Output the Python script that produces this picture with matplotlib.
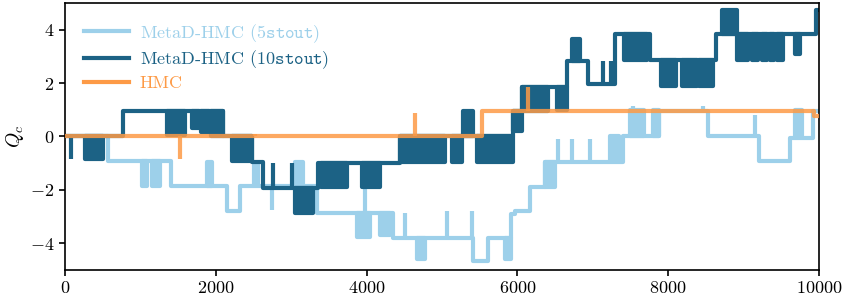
import matplotlib
matplotlib.use("Agg")
from matplotlib import pyplot as plt

plt.rcParams['font.family'] = 'serif'
plt.rcParams['font.serif'] = ['cmr10', 'DejaVu Serif']
plt.rcParams['mathtext.fontset'] = 'cm'
plt.rcParams['axes.formatter.use_mathtext'] = True
plt.rcParams['font.size'] = 13

# --- MetaD-HMC (5stout): plateau changes, flicker blocks, single spikes
q5_x = [0, 565, 1400, 2145, 2320, 3340, 4350, 5410, 5610, 5920, 5970, 6170, 6360,
        7400, 7880, 8530, 9210, 9610, 9920]
q5_y = [0.0, -0.9, -1.87, -2.8, -1.87, -2.85, -3.8, -4.68, -3.8, -2.9, -2.8, -1.9, -0.95,
        0.0, 0.95, 0.0, -0.93, -0.05, 0.95]
q5_blocks = [(1015, 1090, -1.85, -0.9), (1155, 1260, -1.85, -0.9), (1880, 1950, -1.87, -0.95),
             (3050, 3150, -1.87, -0.95), (3870, 4050, -3.75, -2.85), (4180, 4310, -3.7, -2.85),
             (4670, 4780, -4.6, -3.8), (5830, 5920, -4.6, -3.8), (6360, 6500, -1.9, -0.95),
             (7230, 7350, -0.93, 0.0), (7500, 7680, 0.0, 1.0), (7800, 7880, 0.0, 1.0),
             (9680, 9770, 0.0, 1.0)]
q5_spikes = [(2500, -1.87, -0.9), (2560, -1.87, -0.9), (2740, -1.87, -2.75), (3980, -2.85, -1.86),
             (4510, -3.8, -2.85), (5065, -3.8, -2.8), (5400, -3.8, -2.8), (6540, -0.93, -0.1),
             (6720, -0.93, -0.1), (6960, -0.93, -0.1), (7530, 0.0, 1.15), (8460, 0.95, 1.15),
             (9150, 0.0, 0.8)]

# --- MetaD-HMC (10stout)
q10_x = [0, 770, 2095, 2480, 2630, 3355, 4440, 5940, 6060, 6660, 6940, 7300, 7760, 8640, 9960]
q10_y = [0.0, 0.95, 0.0, -0.95, -1.92, -1.0, 0.0, 0.95, 1.85, 2.83, 1.95, 3.85, 2.85, 3.85, 4.75]
q10_blocks = [(265, 504, -0.85, 0.0), (1350, 1590, 0.05, 0.95), (1680, 1780, 0.3, 0.95),
              (1800, 1910, 0.15, 0.95), (1930, 2095, 0.02, 0.95), (2215, 2480, -0.9, 0.0),
              (3050, 3290, -2.85, -1.92), (3400, 3740, -1.9, -1.0), (3940, 4180, -1.9, -1.0),
              (4440, 5040, -0.95, 0.0), (5130, 5265, -0.95, 0.0), (5280, 5410, 0.0, 0.95),
              (5460, 5940, -0.95, 0.0), (5940, 6060, 0.2, 0.95), (6060, 6400, 0.95, 1.85),
              (6525, 6660, 1.0, 1.85), (6720, 6830, 2.83, 3.64), (7420, 7720, 2.85, 3.85),
              (7900, 8110, 1.9, 2.85), (8190, 8380, 1.9, 2.85), (8410, 8590, 1.9, 2.85),
              (8720, 8910, 3.85, 4.75), (8920, 9060, 2.85, 3.85), (9110, 9190, 2.85, 3.85),
              (9240, 9310, 2.85, 3.85), (9350, 9410, 2.85, 3.85), (9450, 9530, 2.85, 3.85),
              (9680, 9750, 3.1, 3.85)]
q10_spikes = [(80, 0.0, -0.85), (2760, -1.92, -1.0), (3010, -1.92, -1.0),
              (7130, 1.95, 2.83), (7240, 1.95, 2.83)]

# --- HMC
hmc_x = [0, 5530, 9930]
hmc_y = [0.02, 0.95, 0.75]
hmc_blocks = []
hmc_spikes = [(1525, 0.02, -0.86), (2520, 0.02, 0.1), (4640, 0.02, 0.88), (6140, 0.95, 1.85)]

x_end = 10000
labels = [r'MetaD-HMC ($\mathtt{5stout}$)', r'MetaD-HMC ($\mathtt{10stout}$)', 'HMC']
colors = ['#9dd0ea', '#1c6285', '#fd9a46']
alphas = [1.0, 1.0, 0.85]
lw = 3.0

fig = plt.figure(figsize=(8.48, 2.97), dpi=100)
ax = fig.add_axes([0.0767, 0.091, 0.889, 0.899])

series = [(q5_x, q5_y, q5_blocks, q5_spikes),
          (q10_x, q10_y, q10_blocks, q10_spikes),
          (hmc_x, hmc_y, hmc_blocks, hmc_spikes)]

for k, (xs, ys, blocks, spikes) in enumerate(series):
    c, a, z = colors[k], alphas[k], k + 1
    ax.step(xs + [x_end], ys + [ys[-1]], where='post', color=c, lw=lw, alpha=a,
            zorder=z, label=labels[k])
    for x0, x1, lo, hi in blocks:
        ax.fill_between([x0, x1], [lo, lo], [hi, hi], color=c, lw=lw, alpha=a, zorder=z)
    for x, base, tip in spikes:
        ax.vlines(x, base, tip, color=c, lw=lw, alpha=a, zorder=z)

ax.set_xlim(0, 10000)
ax.set_ylim(-5, 5)
ax.set_xticks([0, 2000, 4000, 6000, 8000, 10000])
ax.set_yticks([-4, -2, 0, 2, 4])
ax.set_ylabel(r'$Q_c$', fontsize=14, labelpad=3)
ax.tick_params(direction='out', length=4, width=1.2)
for s in ax.spines.values():
    s.set_linewidth(1.2)

leg = ax.legend(loc='upper left', frameon=False, handlelength=2.5, labelspacing=0.22,
                labelcolor='linecolor', borderaxespad=0.65, handletextpad=0.6)
for h in leg.legend_handles:
    h.set_alpha(1.0)
    h.set_linewidth(3.0)

plt.savefig('out.png', dpi=100)
